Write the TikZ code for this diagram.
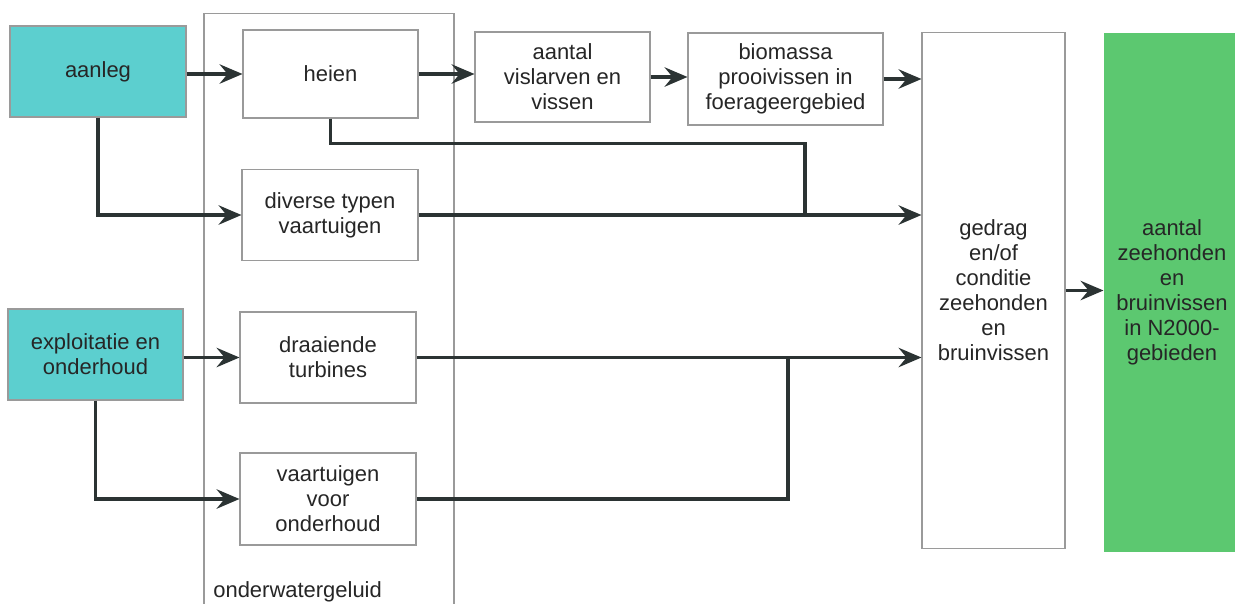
\documentclass[tikz,border=0pt]{standalone}
\usepackage{fontspec}
\setmainfont{Liberation Sans}
\usetikzlibrary{arrows.meta}
\definecolor{aanlegcyan}{HTML}{5CCFCF}
\definecolor{doelgroen}{HTML}{5CC870}
\definecolor{lijngrijs}{HTML}{2B3333}
\definecolor{randgrijs}{HTML}{9A9A9A}

\begin{document}
\begin{tikzpicture}[x=0.02cm,y=-0.02cm,
		every node/.style={font=\fontsize{12.5}{14.2}\selectfont, text=black!85, align=center, inner sep=0pt},
		box/.style={draw=randgrijs, line width=0.6pt, fill=white},
		pijl/.style={draw=lijngrijs, line width=2pt, -{Stealth[length=13pt,width=11pt,inset=4.5pt]}},
		lijn/.style={draw=lijngrijs, line width=2pt}]
		\useasboundingbox (0,0) rectangle (1235,603);
		% groep onderwatergeluid
		\node [box, minimum width=5cm, minimum height=11.94cm] (geluid) at (329,311.5) {};
		\node [anchor=base west] (geluidlabel) at (213,597) {onderwatergeluid};
		% oorzaken
		\node [box, fill=aanlegcyan, minimum width=3.52cm, minimum height=1.82cm] (aanleg) at (98,71.5) {aanleg};
		\node [box, fill=aanlegcyan, minimum width=3.5cm, minimum height=1.82cm] (expl) at (95.5,354.5) {exploitatie en\\onderhoud};
		% bronnen
		\node [box, minimum width=3.5cm, minimum height=1.76cm] (heien) at (330.5,74) {heien};
		\node [box, minimum width=3.52cm, minimum height=1.82cm] (diverse) at (330,215) {diverse typen\\vaartuigen};
		\node [box, minimum width=3.52cm, minimum height=1.82cm] (turbines) at (328,357.5) {draaiende\\turbines};
		\node [box, minimum width=3.52cm, minimum height=1.84cm] (onderhoud) at (328,499) {vaartuigen\\voor\\onderhoud};
		% effecten
		\node [box, minimum width=3.5cm, minimum height=1.8cm] (vislarven) at (562.5,77) {aantal\\vislarven en\\vissen};
		\node [box, minimum width=3.9cm, minimum height=1.84cm] (biomassa) at (785.5,79) {biomassa\\prooivissen in\\foerageergebied};
		\node [box, minimum width=2.86cm, minimum height=10.34cm] (gedrag) at (993.5,290.5) {gedrag\\en/of\\conditie\\zeehonden\\en\\bruinvissen};
		\node [box, draw=none, fill=doelgroen, minimum width=2.72cm, minimum height=10.38cm] (aantal) at (1172,292.5) {aantal\\zeehonden\\en\\bruinvissen\\in N2000-\\gebieden};
		% knooppunten
		\coordinate (j1) at (805,215);
		\coordinate (j2) at (788,357.5);
		% verbindingen
		\draw [pijl] (aanleg.east |- heien.west) -- (heien.west);
		\draw [pijl] (aanleg.south) |- (diverse.west);
		\draw [pijl] (expl.east |- turbines.west) -- (turbines.west);
		\draw [pijl] (expl.south) |- (onderhoud.west);
		\draw [pijl] (heien.east) -- (heien.east -| vislarven.west);
		\draw [pijl] (vislarven.east) -- (vislarven.east -| biomassa.west);
		\draw [pijl] (biomassa.east) -- (biomassa.east -| gedrag.west);
		\draw [lijn] (heien.south) -- ++(0,25) -| (j1);
		\draw [pijl] (diverse.east) -- (diverse.east -| gedrag.west);
		\draw [pijl] (turbines.east) -- (turbines.east -| gedrag.west);
		\draw [lijn] (onderhoud.east) -| (j2);
		\draw [pijl] (gedrag.east) -- (gedrag.east -| aantal.west);
	\end{tikzpicture}
\end{document}
